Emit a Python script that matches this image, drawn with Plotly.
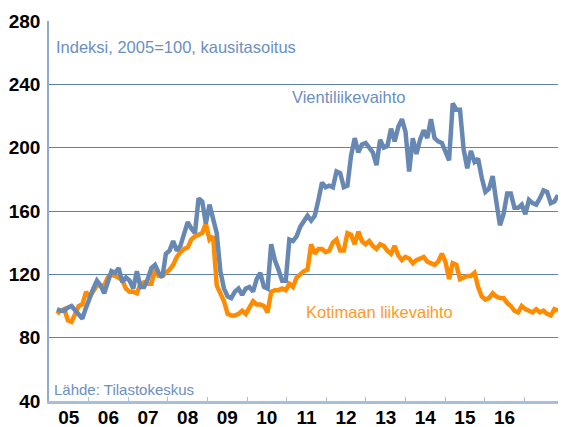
import plotly.graph_objects as go

# --- Data (monthly, Jan 2005 onward) ---
vienti = [98, 97, 97, 99, 100, 97, 95, 92, 99, 106, 111, 116, 113, 108, 115, 122, 121, 124, 115, 118,
          116, 111, 122, 112, 112, 117, 124, 126, 121, 118, 133, 135, 141, 135, 138, 145, 153, 149, 146, 168,
          166, 152, 164, 155, 146, 122, 111, 106, 105, 109, 111, 107, 111, 112, 109, 117, 121, 112, 111, 139,
          129, 123, 116, 116, 142, 141, 144, 150, 154, 157, 154, 157, 167, 178, 175, 176, 175, 185, 184, 175,
          176, 195, 206, 197, 202, 203, 200, 197, 189, 205, 200, 201, 212, 204, 213, 218, 210, 185, 206, 196,
          205, 211, 206, 218, 206, 204, 203, 198, 192, 228, 224, 224, 199, 187, 198, 191, 193, 181, 172, 174,
          182, 166, 151, 158, 171, 171, 162, 162, 164, 158, 167, 165, 164, 168, 173, 172, 165, 166, 170]

kotimaa = [95, 97, 98, 91, 90, 95, 100, 101, 109, 106, 109, 113, 113, 113, 118, 120, 119, 118, 116, 111,
           109, 109, 108, 114, 115, 114, 114, 123, 119, 119, 121, 123, 126, 131, 134, 136, 137, 142, 144, 145,
           146, 152, 142, 144, 113, 108, 103, 95, 94, 94, 95, 97, 95, 99, 103, 101, 101, 100, 96, 109,
           110, 110, 111, 110, 114, 112, 118, 120, 122, 123, 139, 133, 136, 136, 134, 135, 140, 142, 135, 135,
           146, 145, 139, 147, 141, 139, 141, 138, 136, 139, 138, 135, 133, 138, 132, 129, 131, 130, 127, 129,
           130, 131, 128, 127, 126, 128, 133, 128, 117, 127, 126, 117, 118, 119, 119, 121, 112, 106, 104, 105,
           108, 106, 105, 105, 102, 100, 97, 96, 100, 98, 97, 96, 98, 96, 97, 95, 94, 98, 97]

year_labels = ["05", "06", "07", "08", "09", "10", "11", "12", "13", "14", "15", "16"]

months = list(range(len(vienti)))

# --- Axis geometry (style) ---
x_lo, x_hi = -2.2, 140.2
year_w = 10.91
label_pos = [x_lo + year_w * (k + 0.5) for k in range(len(year_labels))]
bound_pos = [x_lo + year_w * k for k in range(1, len(year_labels) + 1)]

BLUE = "#6888b4"
ORANGE = "#ff8c00"
TXT_BLUE = "#6b8fc2"
GRID = "#5f82b0"
FONT = "Liberation Sans, Arial, sans-serif"

fig = go.Figure()
fig.add_trace(go.Scatter(x=months, y=kotimaa, mode="lines",
                         line=dict(color=ORANGE, width=4.5), name="Kotimaan liikevaihto"))
fig.add_trace(go.Scatter(x=months, y=vienti, mode="lines",
                         line=dict(color=BLUE, width=4.5), name="Vientiliikevaihto"))

# the page body has an 8px default margin, so the figure is offset by 8px
fig.update_layout(
    width=558, height=419,
    margin=dict(l=41, r=0, t=13, b=26, autoexpand=False),
    paper_bgcolor="white", plot_bgcolor="white",
    showlegend=False,
    font=dict(family=FONT),
)

fig.update_xaxes(
    range=[x_lo, x_hi], automargin=False,
    tickmode="array", tickvals=label_pos, ticktext=year_labels,
    ticks="", showgrid=False, zeroline=False,
    tickfont=dict(family=FONT, size=19, color="black", weight="bold"),
    ticklabelstandoff=-3,
    showline=True, linecolor="#a7bfd9", linewidth=2.5,
    minor=dict(tickmode="array", tickvals=bound_pos, ticks="inside", ticklen=4,
               tickcolor="#a7bfd9", tickwidth=1, showgrid=False),
)
fig.update_yaxes(
    range=[40, 280], tickmode="linear", tick0=40, dtick=40, automargin=False,
    ticks="", showgrid=True, gridcolor=GRID, gridwidth=1, zeroline=False,
    tickfont=dict(family=FONT, size=19, color="black", weight="bold"),
    showline=True, linecolor="#8eaacc", linewidth=1.5,
    ticklabelstandoff=3,
)

ann_font = dict(family=FONT, size=16.5, color=TXT_BLUE)
fig.add_annotation(xref="paper", yref="paper", x=0.01, y=0.932, xanchor="left", yanchor="middle",
                   text="Indeksi, 2005=100, kausitasoitus", showarrow=False, font=ann_font)
fig.add_annotation(xref="paper", yref="paper", x=0.466, y=0.80, xanchor="left", yanchor="middle",
                   text="Vientiliikevaihto", showarrow=False, font=ann_font)
fig.add_annotation(xref="paper", yref="paper", x=0.493, y=0.234, xanchor="left", yanchor="middle",
                   text="Kotimaan liikevaihto", showarrow=False,
                   font=dict(family=FONT, size=16.5, color="#ff9a1f"))
fig.add_annotation(xref="paper", yref="paper", x=0.006, y=0.031, xanchor="left", yanchor="middle",
                   text="Lähde: Tilastokeskus", showarrow=False,
                   font=dict(family=FONT, size=15, color=TXT_BLUE))

fig.write_html("out.html")
